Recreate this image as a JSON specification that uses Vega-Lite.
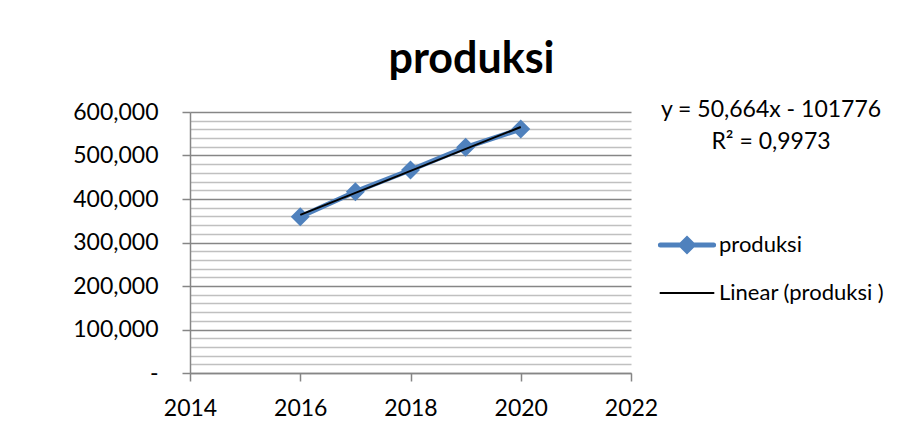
{
  "$schema": "https://vega.github.io/schema/vega-lite/v6.json",
  "width": 441,
  "height": 261,
  "autosize": {"type": "none"},
  "padding": {"left": 190, "top": 112, "right": 292, "bottom": 70},
  "background": "#ffffff",
  "config": {
    "view": {"stroke": null},
    "font": "Lato",
    "axisX": {
      "format": "d",
      "title": null,
      "grid": false,
      "domainColor": "#868686",
      "domainWidth": 1.5,
      "tickColor": "#868686",
      "tickWidth": 1.5,
      "tickSize": 8,
      "labelFont": "Lato",
      "labelFontSize": 23,
      "labelColor": "#000000",
      "labelPadding": 16,
      "labelOverlap": false,
      "labelFlush": false
    },
    "axisY": {
      "title": null,
      "grid": true,
      "gridWidth": 1.6,
      "domainColor": "#868686",
      "domainWidth": 1.5,
      "tickColor": "#868686",
      "tickWidth": 1.5,
      "tickSize": 8,
      "labelFont": "Lato",
      "labelFontSize": 23,
      "labelColor": "#000000",
      "labelPadding": 24,
      "labelOverlap": false,
      "labelFlush": false
    }
  },
  "title": {
    "text": "produksi",
    "font": "Lato",
    "fontSize": 43,
    "fontWeight": "bold",
    "color": "#000000",
    "anchor": "middle",
    "frame": "group",
    "baseline": "alphabetic",
    "offset": -17,
    "dx": 61
  },
  "data": {
    "values": [
      {"year": 2016, "produksi": 359.3},
      {"year": 2017, "produksi": 416.8},
      {"year": 2018, "produksi": 466.7},
      {"year": 2019, "produksi": 518.8},
      {"year": 2020, "produksi": 560.9}
    ]
  },
  "layer": [
    {
      "mark": {"type": "line", "strokeWidth": 5, "strokeCap": "round", "strokeJoin": "round"},
      "encoding": {
        "x": {"field": "year", "type": "quantitative", "scale": {"domain": [2014, 2022], "nice": false, "zero": false},
          "axis": {"values": [2014, 2016, 2018, 2020, 2022]}},
        "y": {"field": "produksi", "type": "quantitative", "scale": {"domain": [0, 600], "nice": false, "zero": true},
          "axis": {
            "values": [0, 20, 40, 60, 80, 100, 120, 140, 160, 180, 200, 220, 240, 260, 280, 300, 320, 340, 360, 380, 400, 420, 440, 460, 480, 500, 520, 540, 560, 580, 600],
            "gridColor": {"condition": {"test": "datum.value % 100 === 0", "value": "#868686"}, "value": "#c0c0c0"},
            "tickOpacity": {"condition": {"test": "datum.value % 100 === 0", "value": 1}, "value": 0},
            "labelExpr": "datum.value % 100 !== 0 ? '' : (datum.value === 0 ? '-' : replace(format(datum.value, '.3f'), '.', ','))"
          }},
        "color": {
          "datum": "produksi",
          "type": "nominal",
          "scale": {"domain": ["produksi", "Linear (produksi )"], "range": ["#4F81BD", "#000000"]},
          "legend": {
            "title": null,
            "orient": "none",
            "legendX": 486,
            "legendY": 122,
            "padding": 0,
            "symbolSize": 1600,
            "rowPadding": 21,
            "labelOffset": 21,
            "labelFont": "Lato",
            "labelFontSize": 22,
            "labelColor": "#000000",
            "labelLimit": 400,
            "encode": {
              "symbols": {
                "update": {
                  "shape": {"signal": "datum.value === 'produksi' ? 'M-1.33,0L1.33,0M0,-0.3L0.3,0L0,0.3L-0.3,0Z' : 'M-1.33,0L1.33,0'"},
                  "strokeWidth": {"signal": "datum.value === 'produksi' ? 5 : 1.8"},
                  "fill": {"signal": "datum.value === 'produksi' ? '#4F81BD' : 'transparent'"},
                  "stroke": {"signal": "datum.value === 'produksi' ? '#4F81BD' : '#000000'"},
                  "strokeCap": {"value": "round"},
                  "opacity": {"value": 1},
                  "fillOpacity": {"value": 1},
                  "strokeOpacity": {"value": 1}
                }
              }
            }
          }
        }
      }
    },
    {
      "mark": {"type": "point", "shape": "diamond", "filled": true, "size": 361, "opacity": 1},
      "encoding": {
        "x": {"field": "year", "type": "quantitative",
          "axis": {"values": [2014, 2016, 2018, 2020, 2022]}},
        "y": {"field": "produksi", "type": "quantitative",
          "axis": {
            "values": [0, 20, 40, 60, 80, 100, 120, 140, 160, 180, 200, 220, 240, 260, 280, 300, 320, 340, 360, 380, 400, 420, 440, 460, 480, 500, 520, 540, 560, 580, 600],
            "gridColor": {"condition": {"test": "datum.value % 100 === 0", "value": "#868686"}, "value": "#c0c0c0"},
            "tickOpacity": {"condition": {"test": "datum.value % 100 === 0", "value": 1}, "value": 0},
            "labelExpr": "datum.value % 100 !== 0 ? '' : (datum.value === 0 ? '-' : replace(format(datum.value, '.3f'), '.', ','))"
          }},
        "color": {"datum": "produksi", "type": "nominal"}
      }
    },
    {
      "transform": [{"regression": "produksi", "on": "year", "method": "linear"}],
      "mark": {"type": "line", "strokeWidth": 2},
      "encoding": {
        "x": {"field": "year", "type": "quantitative",
          "axis": {"values": [2014, 2016, 2018, 2020, 2022]}},
        "y": {"field": "produksi", "type": "quantitative",
          "axis": {
            "values": [0, 20, 40, 60, 80, 100, 120, 140, 160, 180, 200, 220, 240, 260, 280, 300, 320, 340, 360, 380, 400, 420, 440, 460, 480, 500, 520, 540, 560, 580, 600],
            "gridColor": {"condition": {"test": "datum.value % 100 === 0", "value": "#868686"}, "value": "#c0c0c0"},
            "tickOpacity": {"condition": {"test": "datum.value % 100 === 0", "value": 1}, "value": 0},
            "labelExpr": "datum.value % 100 !== 0 ? '' : (datum.value === 0 ? '-' : replace(format(datum.value, '.3f'), '.', ','))"
          }},
        "color": {"datum": "Linear (produksi )", "type": "nominal"}
      }
    },
    {
      "data": {"values": [{"label": "y = 50,664x - 101776"}]},
      "mark": {"type": "text", "font": "Lato", "fontSize": 23, "fill": "#000000", "align": "center", "baseline": "middle", "clip": false},
      "encoding": {
        "x": {"datum": 2024.54, "type": "quantitative",
          "axis": {"values": [2014, 2016, 2018, 2020, 2022]}},
        "y": {"datum": 604.6, "type": "quantitative",
          "axis": {
            "values": [0, 20, 40, 60, 80, 100, 120, 140, 160, 180, 200, 220, 240, 260, 280, 300, 320, 340, 360, 380, 400, 420, 440, 460, 480, 500, 520, 540, 560, 580, 600],
            "gridColor": {"condition": {"test": "datum.value % 100 === 0", "value": "#868686"}, "value": "#c0c0c0"},
            "tickOpacity": {"condition": {"test": "datum.value % 100 === 0", "value": 1}, "value": 0},
            "labelExpr": "datum.value % 100 !== 0 ? '' : (datum.value === 0 ? '-' : replace(format(datum.value, '.3f'), '.', ','))"
          }},
        "text": {"field": "label"}
      }
    },
    {
      "data": {"values": [{"label": "R² = 0,9973"}]},
      "mark": {"type": "text", "font": "Lato", "fontSize": 23, "fill": "#000000", "align": "center", "baseline": "middle", "clip": false},
      "encoding": {
        "x": {"datum": 2024.54, "type": "quantitative",
          "axis": {"values": [2014, 2016, 2018, 2020, 2022]}},
        "y": {"datum": 531.7, "type": "quantitative",
          "axis": {
            "values": [0, 20, 40, 60, 80, 100, 120, 140, 160, 180, 200, 220, 240, 260, 280, 300, 320, 340, 360, 380, 400, 420, 440, 460, 480, 500, 520, 540, 560, 580, 600],
            "gridColor": {"condition": {"test": "datum.value % 100 === 0", "value": "#868686"}, "value": "#c0c0c0"},
            "tickOpacity": {"condition": {"test": "datum.value % 100 === 0", "value": 1}, "value": 0},
            "labelExpr": "datum.value % 100 !== 0 ? '' : (datum.value === 0 ? '-' : replace(format(datum.value, '.3f'), '.', ','))"
          }},
        "text": {"field": "label"}
      }
    }
  ]
}
